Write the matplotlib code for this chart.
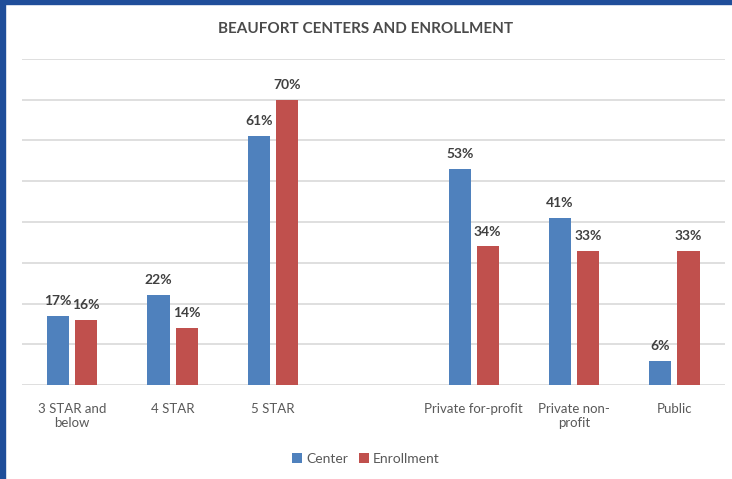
import numpy as np
import matplotlib.pyplot as plt
from matplotlib.patches import Rectangle

categories = ["3 STAR and\nbelow", "4 STAR", "5 STAR", "", "Private for-profit", "Private non-\nprofit", "Public"]
center = [17, 22, 61, None, 53, 41, 6]
enrollment = [16, 14, 70, None, 34, 33, 33]

plt.rcParams['font.family'] = ['Lato', 'DejaVu Sans']

fig = plt.figure(figsize=(7.32, 4.79), dpi=100)
ax = fig.add_axes([0.030, 0.196, 0.960, 0.681])

x = np.arange(len(categories))
w = 0.22
off = 0.14
for i in range(len(categories)):
    if center[i] is None:
        continue
    ax.bar(x[i] - off, center[i], w, color="#4F81BD", label="Center" if i == 0 else None, zorder=3)
    ax.bar(x[i] + off, enrollment[i], w, color="#C0504D", label="Enrollment" if i == 0 else None, zorder=3)
    ax.text(x[i] - off, center[i] + 2.2, f"{center[i]}%", ha="center", va="bottom",
            fontsize=10, fontweight="bold", color="#404040")
    ax.text(x[i] + off, enrollment[i] + 2.2, f"{enrollment[i]}%", ha="center", va="bottom",
            fontsize=10, fontweight="bold", color="#404040")

ax.set_xlim(-0.5, len(categories) - 0.5)
ax.set_ylim(0, 80)
ax.set_yticks(np.arange(0, 81, 10))
ax.set_yticklabels([])
ax.grid(axis="y", color="#D9D9D9", linewidth=1.2, zorder=0)
for s in ax.spines.values():
    s.set_visible(False)
ax.tick_params(axis="both", length=0)
ax.set_xticks(x)
ax.set_xticklabels(categories, fontsize=9.5, color="#595959")
ax.tick_params(axis="x", pad=13)

fig.text(0.5, 0.94, "BEAUFORT CENTERS AND ENROLLMENT", ha="center", va="center",
         fontsize=11, fontweight="bold", color="#4A4A4A")
fig.legend(loc="center", bbox_to_anchor=(0.5, 0.042), ncol=2, frameon=False,
           fontsize=10, handlelength=0.7, handleheight=0.7, handletextpad=0.3,
           columnspacing=0.8, labelcolor="#595959")

# blue frame on top and left
fig.patches.append(Rectangle((0, 0), 5 / 732, 1, transform=fig.transFigure, color="#1F4E9A", zorder=10))
fig.patches.append(Rectangle((0, 1 - 4 / 479), 1, 4 / 479, transform=fig.transFigure, color="#1F4E9A", zorder=10))

fig.savefig("out.png", dpi=100)
